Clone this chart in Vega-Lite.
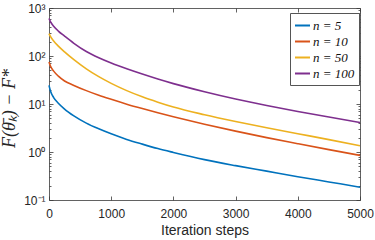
{
  "$schema": "https://vega.github.io/schema/vega-lite/v6.json",
  "width": 311,
  "height": 192,
  "autosize": "none",
  "padding": {"left": 49, "top": 8, "right": 15, "bottom": 40},
  "background": "white",
  "config": {
    "view": {"stroke": null},
    "axis": {
      "grid": false,
      "labelFont": "Liberation Sans",
      "labelFontSize": 12,
      "labelColor": "#262626",
      "domainColor": "#3a3a3a",
      "domainWidth": 0.8,
      "tickColor": "#3a3a3a",
      "tickWidth": 0.8,
      "titleFont": "Liberation Sans",
      "titleFontSize": 14,
      "titleFontWeight": "normal",
      "titleColor": "#262626",
      "labelFlush": false,
      "labelOverlap": false
    }
  },
  "datasets": {
    "curves": [
      {"k": 0, "v": 24.5, "n": "n = 5"},
      {"k": 25, "v": 18.4, "n": "n = 5"},
      {"k": 75, "v": 13.6, "n": "n = 5"},
      {"k": 150, "v": 10.4, "n": "n = 5"},
      {"k": 250, "v": 7.85, "n": "n = 5"},
      {"k": 400, "v": 5.66, "n": "n = 5"},
      {"k": 600, "v": 4.00, "n": "n = 5"},
      {"k": 800, "v": 3.04, "n": "n = 5"},
      {"k": 1000, "v": 2.39, "n": "n = 5"},
      {"k": 1250, "v": 1.83, "n": "n = 5"},
      {"k": 1500, "v": 1.46, "n": "n = 5"},
      {"k": 1750, "v": 1.18, "n": "n = 5"},
      {"k": 2000, "v": 0.979, "n": "n = 5"},
      {"k": 2500, "v": 0.693, "n": "n = 5"},
      {"k": 3000, "v": 0.520, "n": "n = 5"},
      {"k": 3500, "v": 0.399, "n": "n = 5"},
      {"k": 4000, "v": 0.306, "n": "n = 5"},
      {"k": 4500, "v": 0.238, "n": "n = 5"},
      {"k": 5000, "v": 0.185, "n": "n = 5"},
      {"k": 0, "v": 75.0, "n": "n = 10"},
      {"k": 25, "v": 61.0, "n": "n = 10"},
      {"k": 75, "v": 48.4, "n": "n = 10"},
      {"k": 150, "v": 38.0, "n": "n = 10"},
      {"k": 250, "v": 30.2, "n": "n = 10"},
      {"k": 400, "v": 24.4, "n": "n = 10"},
      {"k": 600, "v": 19.0, "n": "n = 10"},
      {"k": 800, "v": 15.2, "n": "n = 10"},
      {"k": 1000, "v": 12.5, "n": "n = 10"},
      {"k": 1250, "v": 9.93, "n": "n = 10"},
      {"k": 1500, "v": 8.03, "n": "n = 10"},
      {"k": 1750, "v": 6.56, "n": "n = 10"},
      {"k": 2000, "v": 5.43, "n": "n = 10"},
      {"k": 2500, "v": 3.80, "n": "n = 10"},
      {"k": 3000, "v": 2.72, "n": "n = 10"},
      {"k": 3500, "v": 1.99, "n": "n = 10"},
      {"k": 4000, "v": 1.49, "n": "n = 10"},
      {"k": 4500, "v": 1.12, "n": "n = 10"},
      {"k": 5000, "v": 0.850, "n": "n = 10"},
      {"k": 0, "v": 293, "n": "n = 50"},
      {"k": 25, "v": 252, "n": "n = 50"},
      {"k": 75, "v": 205, "n": "n = 50"},
      {"k": 150, "v": 161, "n": "n = 50"},
      {"k": 250, "v": 122, "n": "n = 50"},
      {"k": 400, "v": 84.1, "n": "n = 50"},
      {"k": 600, "v": 54.1, "n": "n = 50"},
      {"k": 800, "v": 37.1, "n": "n = 50"},
      {"k": 1000, "v": 26.9, "n": "n = 50"},
      {"k": 1250, "v": 19.0, "n": "n = 50"},
      {"k": 1500, "v": 14.1, "n": "n = 50"},
      {"k": 1750, "v": 10.9, "n": "n = 50"},
      {"k": 2000, "v": 8.64, "n": "n = 50"},
      {"k": 2500, "v": 5.98, "n": "n = 50"},
      {"k": 3000, "v": 4.33, "n": "n = 50"},
      {"k": 3500, "v": 3.21, "n": "n = 50"},
      {"k": 4000, "v": 2.41, "n": "n = 50"},
      {"k": 4500, "v": 1.81, "n": "n = 50"},
      {"k": 5000, "v": 1.35, "n": "n = 50"},
      {"k": 0, "v": 603, "n": "n = 100"},
      {"k": 25, "v": 513, "n": "n = 100"},
      {"k": 75, "v": 417, "n": "n = 100"},
      {"k": 150, "v": 331, "n": "n = 100"},
      {"k": 250, "v": 260, "n": "n = 100"},
      {"k": 400, "v": 184, "n": "n = 100"},
      {"k": 600, "v": 124, "n": "n = 100"},
      {"k": 800, "v": 91.8, "n": "n = 100"},
      {"k": 1000, "v": 71.3, "n": "n = 100"},
      {"k": 1250, "v": 54.1, "n": "n = 100"},
      {"k": 1500, "v": 42.0, "n": "n = 100"},
      {"k": 1750, "v": 33.1, "n": "n = 100"},
      {"k": 2000, "v": 26.6, "n": "n = 100"},
      {"k": 2500, "v": 18.0, "n": "n = 100"},
      {"k": 3000, "v": 12.7, "n": "n = 100"},
      {"k": 3500, "v": 9.33, "n": "n = 100"},
      {"k": 4000, "v": 7.00, "n": "n = 100"},
      {"k": 4500, "v": 5.34, "n": "n = 100"},
      {"k": 5000, "v": 4.12, "n": "n = 100"}
    ]
  },
  "data": {"name": "curves"},
  "layer": [
    {
      "mark": {"type": "line", "strokeWidth": 1.6, "interpolate": "monotone"},
      "encoding": {
        "x": {
          "field": "k", "type": "quantitative",
          "scale": {"domain": [0, 5000], "nice": false, "zero": false},
          "axis": {
            "orient": "bottom",
            "values": [0, 1000, 2000, 3000, 4000, 5000],
            "format": "d",
            "tickSize": -4,
            "labelPadding": 12,
            "title": "Iteration steps",
            "titleY": 30,
            "titleBaseline": "middle"
          }
        },
        "y": {
          "field": "v", "type": "quantitative",
          "scale": {"type": "log", "domain": [0.1, 1000], "nice": false},
          "axis": {
            "orient": "left",
            "values": [0.1, 0.2, 0.3, 0.4, 0.5, 0.6, 0.7, 0.8, 0.9, 1, 2, 3, 4, 5, 6, 7, 8, 9, 10, 20, 30, 40, 50, 60, 70, 80, 90, 100, 200, 300, 400, 500, 600, 700, 800, 900, 1000],
            "labelExpr": "datum.value==1000?'10³':datum.value==100?'10²':datum.value==10?'10¹':datum.value==1?'10⁰':datum.value==0.1?'10⁻¹':''",
            "tickSize": {"condition": {"test": "datum.value==1000||datum.value==100||datum.value==10||datum.value==1||datum.value==0.1", "value": -4}, "value": -2},
            "labelPadding": 8,
            "title": "F(θ̄ₖ)  −  F*",
            "titleFont": "Liberation Serif",
            "titleFontStyle": "italic",
            "titleFontSize": 18,
            "titleAngle": -90,
            "titleX": -40,
            "titleY": 100,
            "titleAlign": "center",
            "titleBaseline": "middle"
          }
        },
        "color": {
          "field": "n", "type": "nominal",
          "scale": {"domain": ["n = 5", "n = 10", "n = 50", "n = 100"], "range": ["#0072BD", "#D95319", "#EDB120", "#7E2F8E"]},
          "legend": {
            "title": null,
            "orient": "none",
            "legendX": 241,
            "legendY": 5,
            "symbolType": "stroke",
            "symbolSize": 225,
            "symbolStrokeWidth": 2,
            "labelFont": "Liberation Serif",
            "labelFontStyle": "italic",
            "labelFontWeight": "normal",
            "labelFontSize": 13,
            "labelColor": "#111",
            "labelOffset": 2,
            "rowPadding": 0,
            "padding": 4,
            "strokeColor": "#555",
            "fillColor": "white"
          }
        }
      }
    },
    {
      "mark": {"type": "line", "opacity": 0},
      "encoding": {
        "detail": {"field": "n"},
        "x": {
          "field": "k", "type": "quantitative",
          "scale": {"domain": [0, 5000], "nice": false, "zero": false},
          "axis": {"orient": "top", "values": [0, 1000, 2000, 3000, 4000, 5000], "labels": false, "tickSize": -4, "title": null}
        },
        "y": {
          "field": "v", "type": "quantitative",
          "scale": {"type": "log", "domain": [0.1, 1000], "nice": false},
          "axis": {
            "orient": "right",
            "values": [0.1, 0.2, 0.3, 0.4, 0.5, 0.6, 0.7, 0.8, 0.9, 1, 2, 3, 4, 5, 6, 7, 8, 9, 10, 20, 30, 40, 50, 60, 70, 80, 90, 100, 200, 300, 400, 500, 600, 700, 800, 900, 1000],
            "labels": false,
            "tickSize": {"condition": {"test": "datum.value==1000||datum.value==100||datum.value==10||datum.value==1||datum.value==0.1", "value": -4}, "value": -2},
            "title": null
          }
        }
      }
    }
  ],
  "resolve": {"axis": {"x": "independent", "y": "independent"}}
}
